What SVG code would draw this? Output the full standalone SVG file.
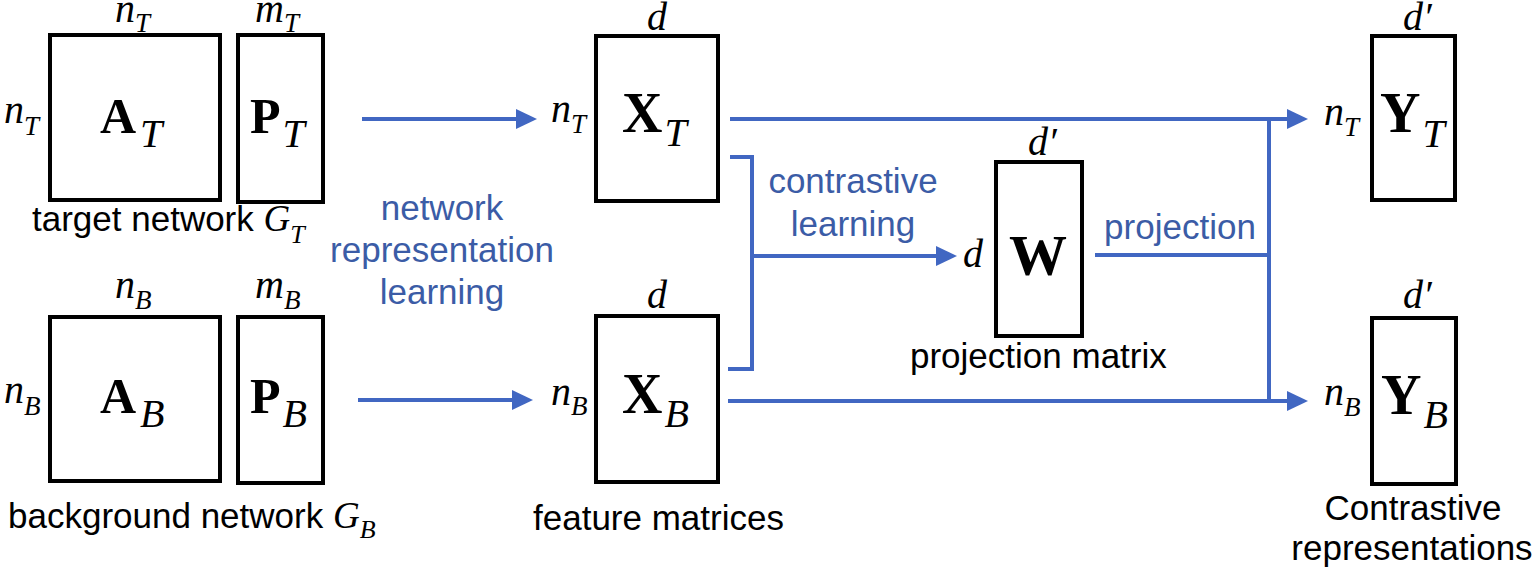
<svg xmlns="http://www.w3.org/2000/svg" width="1535" height="571" viewBox="0 0 1535 571">
<style>
.box{fill:none;stroke:#000;stroke-width:4}
.mi{font-family:"Liberation Serif","Times New Roman",serif;font-style:italic;font-size:40px;fill:#000}
.ms{font-size:27px}
.mb{font-family:"Liberation Serif","Times New Roman",serif;font-weight:bold;font-size:50px;fill:#000}
.mbs{font-style:italic;font-weight:normal;font-size:40px}
.lbl{font-family:"Liberation Sans",Arial,sans-serif;font-size:35px;fill:#000}
.gi{font-family:"Liberation Serif","Times New Roman",serif;font-style:italic;font-size:37px}
.gs{font-size:26px}
.blue{font-family:"Liberation Sans",Arial,sans-serif;font-size:35px;fill:#3B5CA6;text-anchor:middle}
.conn{fill:none;stroke:#4167C2;stroke-width:4}
</style>
<defs>
<marker id="arr" markerUnits="userSpaceOnUse" markerWidth="22" markerHeight="22" refX="11" refY="10" orient="auto">
<path d="M0,0 L21,10 L0,20 z" fill="#4167C2"/>
</marker>
</defs>

<g id="AT">
<rect class="box" x="50" y="35" width="170" height="165"/>
<text class="mb" x="100" y="133">A<tspan class="mbs" dx="4" y="147">T</tspan></text>
<text class="mi" x="115" y="22">n<tspan class="ms" y="32">T</tspan></text>
<text class="mi" x="4" y="123">n<tspan class="ms" y="135">T</tspan></text>
</g>
<g id="PT">
<rect class="box" x="238" y="35" width="85" height="167"/>
<text class="mb" x="250" y="133">P<tspan class="mbs" dx="2" y="147">T</tspan></text>
<text class="mi" x="255" y="22">m<tspan class="ms" y="32">T</tspan></text>
</g>
<text class="lbl" x="32" y="231">target network <tspan class="gi">G</tspan><tspan class="gi gs" y="243">T</tspan></text>

<g id="AB">
<rect class="box" x="50" y="317" width="170" height="164"/>
<text class="mb" x="100" y="413">A<tspan class="mbs" dx="4" y="427">B</tspan></text>
<text class="mi" x="115" y="298">n<tspan class="ms" y="309">B</tspan></text>
<text class="mi" x="4" y="403">n<tspan class="ms" y="415">B</tspan></text>
</g>
<g id="PB">
<rect class="box" x="238" y="317" width="85" height="166"/>
<text class="mb" x="250" y="413">P<tspan class="mbs" dx="2" y="427">B</tspan></text>
<text class="mi" x="255" y="298">m<tspan class="ms" y="309">B</tspan></text>
</g>
<text class="lbl" x="8" y="528">background network <tspan class="gi">G</tspan><tspan class="gi gs" y="538">B</tspan></text>

<g id="XT">
<rect class="box" x="596" y="36" width="122" height="165"/>
<text class="mb" x="622" y="132" style="font-size:56px">X<tspan class="mbs" dx="2" y="146">T</tspan></text>
<text class="mi" x="647" y="30">d</text>
<text class="mi" x="551" y="122">n<tspan class="ms" y="133">T</tspan></text>
</g>
<g id="XB">
<rect class="box" x="596" y="316" width="122" height="166"/>
<text class="mb" x="622" y="413" style="font-size:56px">X<tspan class="mbs" dx="2" y="427">B</tspan></text>
<text class="mi" x="647" y="308">d</text>
<text class="mi" x="551" y="405">n<tspan class="ms" y="415">B</tspan></text>
</g>
<text class="lbl" x="533" y="530">feature matrices</text>

<g id="W">
<rect class="box" x="996" y="162" width="86" height="174"/>
<text class="mb" x="1009" y="275" style="font-size:58px">W</text>
<text class="mi" x="1028" y="155">d′</text>
<text class="mi" x="963" y="267">d</text>
<text class="lbl" x="910" y="368">projection matrix</text>
</g>

<g id="YT">
<rect class="box" x="1372" y="36" width="83" height="164"/>
<text class="mb" x="1380" y="132" style="font-size:56px">Y<tspan class="mbs" dx="2" y="147">T</tspan></text>
<text class="mi" x="1403" y="30">d′</text>
<text class="mi" x="1324" y="125">n<tspan class="ms" y="136">T</tspan></text>
</g>
<g id="YB">
<rect class="box" x="1372" y="318" width="84" height="166"/>
<text class="mb" x="1381" y="414" style="font-size:56px">Y<tspan class="mbs" dx="2" y="428">B</tspan></text>
<text class="mi" x="1403" y="308">d′</text>
<text class="mi" x="1324" y="405">n<tspan class="ms" y="416">B</tspan></text>
</g>
<text class="lbl" x="1413" y="520" text-anchor="middle">Contrastive</text>
<text class="lbl" x="1412" y="560" text-anchor="middle">representations</text>

<g id="connectors">
<path class="conn" d="M362,119 H527" marker-end="url(#arr)"/>
<path class="conn" d="M358,400 H523" marker-end="url(#arr)"/>
<path class="conn" d="M730,119 H1298" marker-end="url(#arr)"/>
<path class="conn" d="M728,401 H1298" marker-end="url(#arr)"/>
<path class="conn" d="M730,157 H752 V369 H728"/>
<path class="conn" d="M752,256 H947" marker-end="url(#arr)"/>
<path class="conn" d="M1095,255 H1269"/>
<path class="conn" d="M1269,119 V401"/>
<text class="blue" x="442" y="220">network</text>
<text class="blue" x="442" y="262">representation</text>
<text class="blue" x="442" y="304">learning</text>
<text class="blue" x="853" y="193">contrastive</text>
<text class="blue" x="853" y="236">learning</text>
<text class="blue" x="1180" y="239">projection</text>
</g>
</svg>
